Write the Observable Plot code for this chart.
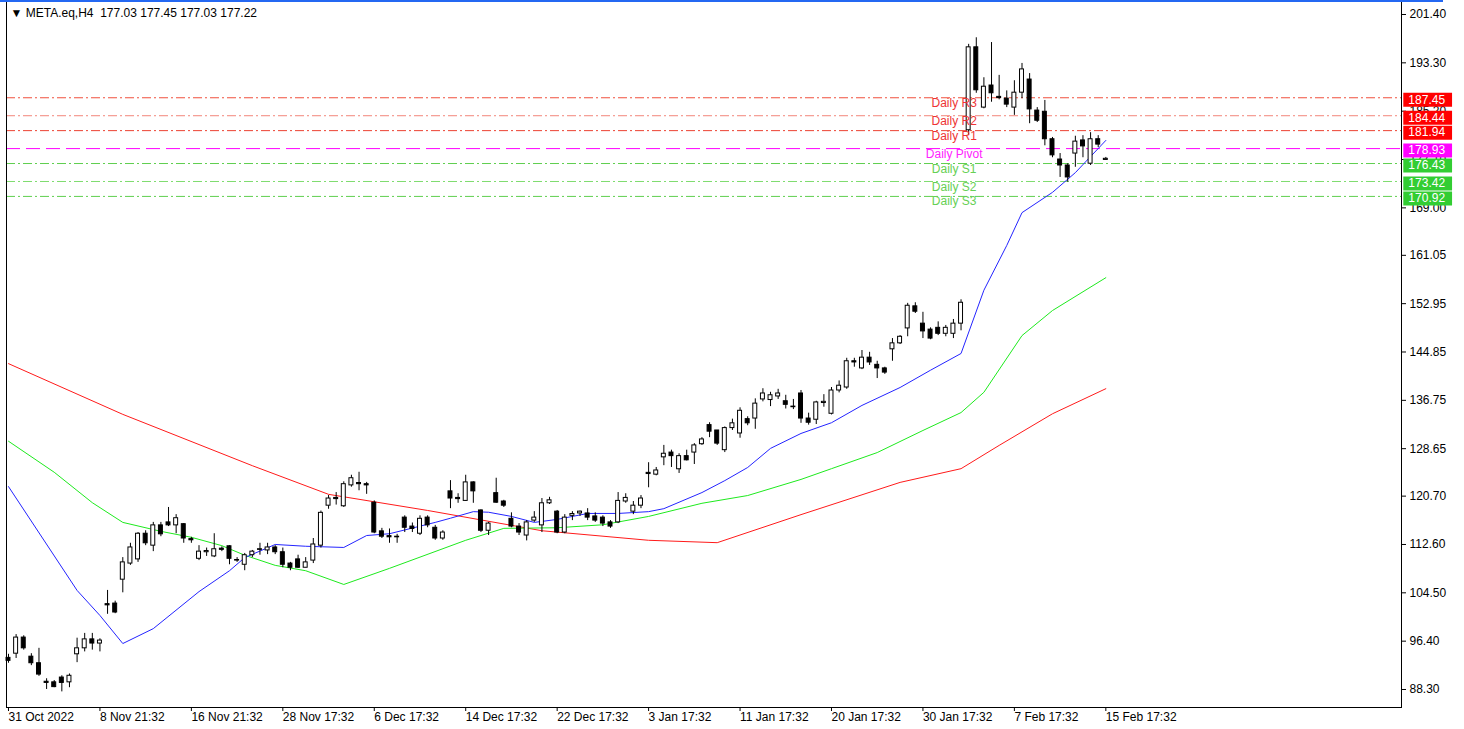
<!DOCTYPE html>
<html>
<head>
<meta charset="utf-8">
<script src="https://cdn.jsdelivr.net/npm/d3@7"></script>
<script src="https://cdn.jsdelivr.net/npm/@observablehq/plot@0.6"></script>
<style>
html, body { margin: 0; padding: 0; background: #fff; }
#wrap { position: relative; width: 1464px; height: 729px; overflow: hidden; }
#topbar { position: absolute; left: 0; top: 0; width: 1443px; height: 2px; background: #2468f2; }
svg { display: block; }
</style>
</head>
<body>
<div id="wrap"><div id="chart"></div><div id="topbar"></div></div>
<script>
// ---- Data (META.eq, H4 candles, index 0 = 31 Oct 2022) ----
const opens = [
  93.6, 94.3, 97.0, 93.8, 92.7, 89.6, 89.5, 90.3, 89.5, 94.2,
  95.2, 96.7, 96.0, 102.6, 102.7, 106.7, 109.4, 110.1, 114.4, 112.4,
  115.8, 116.3, 115.8, 116.0, 113.5, 110.2, 111.3, 110.6, 111.9, 112.3,
  110.0, 109.2, 110.8, 111.8, 111.6, 112.1, 111.3, 109.4, 110.1, 108.7,
  109.9, 112.4, 119.1, 120.4, 119.0, 122.5, 122.9, 122.7, 119.6, 114.8,
  114.0, 113.9, 117.1, 115.6, 114.4, 117.1, 115.4, 113.6, 121.5, 120.4,
  119.9, 123.0, 118.3, 114.9, 121.2, 119.8, 116.9, 115.6, 114.1, 116.6,
  115.8, 119.5, 118.1, 114.6, 117.4, 117.8, 117.8, 117.3, 117.1, 116.3,
  116.3, 119.8, 118.1, 119.1, 124.6, 124.3, 127.2, 128.0, 125.2, 127.4,
  128.0, 129.4, 132.6, 131.7, 128.4, 132.1, 131.2, 133.6, 133.7, 136.9,
  136.8, 137.4, 136.6, 135.7, 137.9, 133.7, 133.5, 136.3, 134.5, 138.4,
  138.9, 143.3, 142.1, 143.9, 142.7, 142.1, 145.3, 146.3, 148.8, 152.5,
  149.6, 148.6, 148.9, 147.9, 147.9, 149.6, 182.0, 195.9, 185.8, 189.5,
  187.6, 187.3, 185.8, 188.3, 190.5, 185.3, 185.1, 180.5, 177.1, 176.1,
  178.1, 180.3, 176.4, 180.5, 177.03
];
const highs = [
  94.2, 97.5, 97.3, 94.3, 95.2, 90.1, 89.8, 90.6, 90.9, 96.9,
  97.7, 97.7, 96.8, 104.9, 103.1, 110.4, 112.8, 114.6, 114.9, 116.3,
  116.3, 118.8, 117.6, 116.1, 113.8, 112.4, 112.0, 114.4, 112.2, 112.4,
  110.4, 111.1, 111.6, 112.8, 112.8, 112.4, 112.0, 109.6, 110.8, 110.4,
  113.6, 118.2, 120.8, 121.3, 123.1, 124.2, 124.7, 123.0, 119.9, 115.3,
  115.2, 114.3, 117.4, 116.2, 117.4, 117.4, 115.8, 114.9, 123.3, 121.1,
  124.2, 123.1, 118.4, 116.3, 123.7, 120.0, 117.9, 116.1, 116.6, 118.1,
  120.3, 120.5, 118.3, 117.6, 118.1, 118.2, 118.6, 117.9, 117.4, 116.6,
  121.3, 121.1, 119.8, 120.8, 126.3, 125.5, 129.2, 128.4, 127.8, 128.4,
  129.5, 130.5, 133.0, 131.7, 132.3, 133.6, 135.5, 134.0, 137.0, 138.7,
  138.1, 138.6, 137.6, 136.9, 138.4, 134.6, 136.6, 137.7, 138.9, 140.0,
  143.8, 143.8, 145.1, 144.8, 143.3, 142.3, 147.1, 147.6, 153.0, 153.1,
  151.5, 148.9, 149.9, 149.3, 150.3, 153.6, 196.4, 197.5, 190.8, 196.7,
  191.2, 188.6, 190.3, 193.2, 191.5, 185.8, 187.0, 180.8, 178.1, 176.4,
  181.0, 181.1, 181.6, 181.1, 177.45
];
const lows = [
  92.7, 93.5, 94.9, 92.3, 90.5, 88.3, 88.6, 87.9, 88.6, 92.8,
  94.6, 94.9, 94.6, 100.9, 101.0, 104.5, 109.1, 109.6, 112.4, 111.4,
  113.9, 115.6, 114.4, 112.8, 112.8, 109.9, 110.6, 110.4, 111.4, 109.2,
  109.6, 108.2, 110.4, 110.8, 110.9, 110.9, 108.7, 108.2, 108.6, 108.7,
  109.4, 112.0, 118.5, 119.2, 118.8, 122.2, 121.6, 121.0, 114.4, 113.6,
  112.8, 112.8, 114.6, 114.6, 114.1, 115.4, 113.3, 113.3, 118.6, 119.5,
  119.8, 119.5, 114.6, 114.1, 119.5, 118.8, 115.4, 114.1, 113.2, 116.3,
  114.6, 119.3, 114.4, 114.4, 116.6, 117.3, 116.6, 116.3, 115.6, 115.3,
  116.1, 119.5, 117.6, 118.6, 122.1, 124.1, 125.8, 125.5, 124.5, 126.6,
  126.0, 129.2, 130.5, 129.2, 128.0, 131.7, 130.4, 132.5, 131.9, 136.5,
  135.7, 136.9, 135.3, 135.2, 132.9, 132.6, 132.7, 135.6, 134.3, 138.0,
  138.6, 142.3, 141.9, 142.6, 140.4, 141.1, 143.3, 146.1, 147.4, 151.3,
  147.1, 146.9, 147.6, 147.4, 147.1, 148.4, 181.1, 188.2, 185.6, 186.7,
  187.1, 185.8, 184.5, 187.3, 183.1, 183.3, 179.4, 177.4, 174.1, 173.3,
  175.8, 177.4, 176.1, 179.1, 177.03
];
const closes = [
  93.1, 97.0, 95.2, 92.7, 90.8, 89.4, 88.7, 89.4, 90.6, 95.2,
  96.7, 96.0, 96.5, 102.4, 101.2, 109.6, 112.1, 114.4, 112.8, 115.8,
  114.3, 115.8, 117.0, 113.6, 113.3, 111.4, 111.5, 111.8, 111.7, 110.2,
  109.9, 110.8, 111.4, 111.7, 112.1, 111.3, 109.2, 108.7, 108.7, 109.6,
  112.6, 117.9, 120.3, 120.2, 122.7, 123.7, 122.7, 122.5, 114.6, 113.9,
  113.8, 113.8, 115.4, 115.2, 116.9, 115.8, 113.6, 114.6, 120.3, 120.2,
  123.0, 121.5, 114.9, 116.1, 119.6, 119.1, 115.6, 114.6, 116.3, 117.1,
  119.5, 120.0, 114.6, 117.1, 117.7, 118.1, 117.1, 116.6, 116.1, 115.6,
  119.9, 120.4, 119.1, 120.3, 124.4, 125.0, 127.8, 127.4, 127.4, 126.7,
  129.2, 130.2, 131.5, 129.5, 132.1, 132.9, 135.0, 132.9, 136.2, 137.9,
  137.6, 137.9, 136.0, 135.6, 133.7, 133.0, 136.4, 136.5, 138.4, 139.2,
  143.3, 143.1, 143.9, 143.1, 142.1, 141.4, 146.3, 147.4, 152.6, 151.6,
  148.3, 147.1, 147.9, 148.9, 149.6, 153.1, 195.9, 188.7, 189.3, 188.2,
  187.4, 186.3, 188.3, 192.2, 185.5, 183.6, 180.5, 177.8, 176.1, 174.1,
  180.1, 179.3, 180.5, 179.6, 177.22
];

// Moving averages (bar index, price) read at their visible vertices
const blueIdx  = [0, 9, 12, 15, 19, 25, 29, 31, 35, 39, 44, 47, 50, 56, 58, 61, 63, 66, 69, 72, 76, 80, 84, 86, 91, 94, 97, 100, 104, 108, 112, 117, 121, 125, 128, 131, 133, 137, 140, 144];
const blueVal  = [122.3, 104.9, 100.7, 96.0, 98.5, 104.7, 108.2, 110.4, 112.6, 112.3, 112.1, 114.1, 114.4, 116.3, 117.0, 118.1, 118.0, 117.3, 116.3, 116.8, 117.8, 117.8, 118.1, 118.6, 121.3, 123.3, 125.5, 128.7, 131.2, 133.0, 135.9, 138.9, 141.8, 144.6, 155.2, 162.7, 168.2, 171.6, 174.9, 180.3];
const greenIdx = [0, 6, 11, 15, 20, 24, 28, 31, 35, 39, 44, 50, 60, 65, 72, 78, 84, 91, 97, 104, 108, 114, 120, 125, 128, 133, 137, 144];
const greenVal = [129.9, 124.7, 119.6, 116.3, 114.8, 113.8, 112.4, 110.8, 109.1, 108.2, 105.9, 108.6, 113.3, 115.3, 115.4, 115.9, 117.3, 119.5, 120.8, 123.5, 125.3, 128.0, 131.7, 134.7, 138.1, 147.6, 151.8, 157.3];
const redIdx   = [0, 15, 32, 42, 55, 70, 84, 93, 104, 117, 125, 130, 137, 144];
const redVal   = [142.9, 134.4, 125.8, 121.0, 118.3, 114.9, 113.3, 112.9, 117.6, 123.0, 125.3, 129.2, 134.5, 138.7];

// Daily pivot levels
const pivotNames  = ["Daily R3", "Daily R2", "Daily R1", "Daily Pivot", "Daily S1", "Daily S2", "Daily S3"];
const pivotValues = [187.45, 184.44, 181.94, 178.93, 176.43, 173.42, 170.92];

// Axis ticks
const yTicks = [201.40, 193.30, 185.20, 177.10, 169.00, 161.05, 152.95, 144.85, 136.75, 128.65, 120.70, 112.60, 104.50, 96.40, 88.30];
const xTickIdx = [0, 12, 24, 36, 48, 60, 72, 84, 96, 108, 120, 132, 144];
const xLabels = ["31 Oct 2022", "8 Nov 21:32", "16 Nov 21:32", "28 Nov 17:32", "6 Dec 17:32", "14 Dec 17:32", "22 Dec 17:32", "3 Jan 17:32", "11 Jan 17:32", "20 Jan 17:32", "30 Jan 17:32", "7 Feb 17:32", "15 Feb 17:32"];

const titleText = "\u25BC META.eq,H4\u00a0\u00a0177.03 177.45 177.03 177.22";

// ---- Build tables ----
const candles = opens.map((o, i) => ({i, open: o, high: highs[i], low: lows[i], close: closes[i]}));
const up = candles.filter(d => d.close >= d.open);
const down = candles.filter(d => d.close < d.open);
const pts = (idx, vals) => idx.map((i, k) => ({i, v: vals[k]}));

const lineColors = ["#f0503e", "#f2867a", "#ec4232", "#ff00ff", "#5fcf4f", "#7fdc6f", "#5fcf4f"];
const textColors = ["#ee3434", "#ee3434", "#ee3434", "#ff22ff", "#66d055", "#66d055", "#66d055"];
const boxColors  = ["#ff0000", "#ff0000", "#ff0000", "#ff00ff", "#32cd32", "#32cd32", "#32cd32"];
const levels = pivotNames.map((n, k) => ({name: n, value: pivotValues[k], line: lineColors[k], text: textColors[k], box: boxColors[k]}));
const pivotOnly = levels.filter(d => d.name === "Daily Pivot");
const others = levels.filter(d => d.name !== "Daily Pivot");

const FONT = "'Liberation Sans', Arial, sans-serif";

const chart = Plot.plot({
  width: 1464,
  height: 729,
  marginLeft: 6,
  marginRight: 63,
  marginTop: 1,
  marginBottom: 22,
  x: {domain: [-0.262, 182.8], axis: null},
  y: {domain: [85.284, 203.578], axis: null},
  color: {type: "identity"},
  style: {fontFamily: FONT, fontSize: "12px", color: "#000", background: "#fff"},
  marks: [
    Plot.ruleY(others, {y: "value", stroke: "line", strokeWidth: 1, strokeDasharray: "9,3,2,3"}),
    Plot.ruleY(pivotOnly, {y: "value", stroke: "line", strokeWidth: 1, strokeDasharray: "14,6"}),
    Plot.line(pts(redIdx, redVal), {x: "i", y: "v", stroke: "#ff1a1a", strokeWidth: 1}),
    Plot.line(pts(greenIdx, greenVal), {x: "i", y: "v", stroke: "#1eea1e", strokeWidth: 1}),
    Plot.line(pts(blueIdx, blueVal), {x: "i", y: "v", stroke: "#2424ff", strokeWidth: 1}),
    Plot.ruleX(candles, {x: "i", y1: "low", y2: "high", stroke: "#000", strokeWidth: 1}),
    Plot.rect(up, {x1: d => d.i - 0.26, x2: d => d.i + 0.26, y1: "open", y2: "close", fill: "#fff", stroke: "#000", strokeWidth: 1}),
    Plot.rect(down, {x1: d => d.i - 0.26, x2: d => d.i + 0.26, y1: "open", y2: "close", fill: "#000", stroke: "#000", strokeWidth: 1}),
    Plot.text(levels, {x: () => 124.1, y: "value", text: "name", fill: "text", lineAnchor: "top", dy: 0.5, fontSize: 12}),
    Plot.text([titleText], {text: d => d, frameAnchor: "top-left", dx: 4, dy: 12, lineAnchor: "middle", textAnchor: "start", fontSize: 12, fill: "#000"}),
    Plot.axisY({anchor: "right", ticks: yTicks, tickSize: 4, tickPadding: 4, tickFormat: d => d.toFixed(2), fontSize: 12, label: null}),
    Plot.axisX({anchor: "bottom", ticks: xTickIdx, tickSize: 4, tickPadding: 1, tickFormat: d => xLabels[Math.round(d / 12)], textAnchor: "start", fontSize: 12, label: null}),
    Plot.frame({stroke: "#000"}),
    Plot.ruleY(levels, {y: "value", x1: () => 183.1, x2: () => 189.5, stroke: "box", strokeWidth: 14, dy: 2, clip: false}),
    Plot.text(levels, {x: () => 183.7, y: "value", text: d => d.value.toFixed(2), fill: "#fff", textAnchor: "start", dy: 2, fontSize: 12, clip: false})
  ]
});
document.getElementById("chart").appendChild(chart);
</script>
</body>
</html>
